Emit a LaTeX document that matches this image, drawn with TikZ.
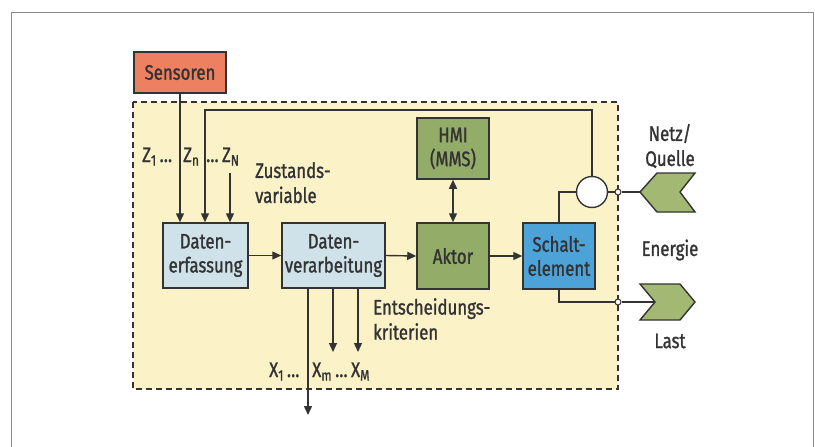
\documentclass[tikz,border=0pt]{standalone}
\usepackage{fontspec}
\setmainfont{Fira Sans}[FakeStretch=0.8, FakeBold=1.2]
\usetikzlibrary{arrows.meta}
\definecolor{linec}{HTML}{333333}
\definecolor{sensc}{HTML}{EE8062}
\definecolor{lblue}{HTML}{CFE2EA}
\definecolor{gbox}{HTML}{93AC68}
\definecolor{sblue}{HTML}{4DA3D8}
\definecolor{chev}{HTML}{A2B873}
\definecolor{yel}{HTML}{FBF2C8}
\definecolor{framec}{HTML}{8A8A8A}
\newcommand{\sbs}[1]{\raisebox{-3.5pt}{\fontsize{15}{15}\selectfont #1}}
\tikzset{
  blk/.style={draw=linec, line width=1.5pt, minimum width=#1, inner sep=0pt, align=center, font=\fontsize{21}{24}\selectfont, text=linec},
  blk/.default=72pt,
  conn/.style={draw=linec, line width=1.4pt},
  arr/.style={conn, -{Triangle[length=9pt,width=8pt]}},
  darr/.style={conn, {Triangle[length=9pt,width=8pt]}-{Triangle[length=9pt,width=8pt]}},
  lbl/.style={font=\fontsize{21}{25}\selectfont, text=linec, inner sep=0pt, align=left},
  dot/.style={circle, draw=linec, fill=white, line width=1pt, minimum size=6pt, inner sep=0pt},
  chevs/.style={draw=linec, fill=chev, line width=1.4pt, line join=miter}
}
\begin{document}
\begin{tikzpicture}[x=1pt,y=-1pt]
\useasboundingbox (0,0) rectangle (815,447);
\fill[white] (0,0) rectangle (815,447);
% outer frame
\draw[framec, line width=1pt] (11,460) -- (11,12) -- (813,12) -- (813,460);
% dashed system box
\fill[yel] (133,102) rectangle (618,389);
\draw[linec, line width=1.8pt, dash pattern=on 6pt off 4pt] (133,102) rectangle (618,389);

% blocks
\node[blk=92pt, minimum height=41pt, fill=sensc] (sens) at (180,72.5) {Sensoren};
\node[blk=85pt, minimum height=65pt, fill=lblue] (de) at (205.5,255.5) {Daten-\\erfassung};
\node[blk=103pt, minimum height=65pt, fill=lblue] (dv) at (333.5,255.5) {Daten-\\verarbeitung};
\node[blk=72pt, minimum height=66pt, fill=gbox] (akt) at (453,256) {Aktor};
\node[blk=72pt, minimum height=61pt, fill=gbox] (hmi) at (453,148.5) {HMI\\(MMS)};
\node[blk=72pt, minimum height=66pt, fill=sblue] (sch) at (559,256) {Schalt-\\element};

% coordinates
\coordinate (zN) at (230,173);
\coordinate (fbTopR) at (592,110);
\coordinate (fbTopL) at (205,110);
\coordinate (up1) at (559,192);
\coordinate (lo1) at (559,302);
\coordinate (o1) at (308,415);
\coordinate (o2) at (333,352);
\coordinate (o3) at (358,352);

% circle (measurement)
\node[circle, draw=linec, fill=white, line width=1.4pt, minimum size=31pt, inner sep=0pt] (meas) at (592,192) {};

% dots on the boundary
\node[dot] (d1) at (618,192) {};
\node[dot] (d2) at (618,302) {};

% chevrons
\draw[chevs] (640,192) -- (657,173) -- (695,173) -- (680,192) -- (695,212) -- (657,212) -- cycle;
\coordinate (netzTip) at (640,192);
\draw[chevs] (640,284) -- (680,284) -- (695,302) -- (680,320) -- (640,320) -- (655,302) -- cycle;
\coordinate (lastNotch) at (655,302);

% inputs to Datenerfassung
\draw[arr] (sens.south) -- (sens.south |- de.north);
\draw[arr] (meas.north) -- (fbTopR) -- (fbTopL) -- (fbTopL |- de.north);
\draw[arr] (zN) -- (zN |- de.north);

% main chain
\draw[arr] (de.east) -- (dv.west);
\draw[arr] (dv.east) -- (akt.west);
\draw[arr] (akt.east) -- (sch.west);
\draw[darr] (hmi.south) -- (akt.north);

% outputs of Datenverarbeitung
\draw[arr] (o1 |- dv.south) -- (o1);
\draw[arr] (o2 |- dv.south) -- (o2);
\draw[arr] (o3 |- dv.south) -- (o3);

% energy path
\draw[conn] (sch.north -| up1) -- (up1) -- (meas.west);
\draw[conn] (meas.east) -- (d1.west);
\draw[conn] (d1.east) -- (netzTip);
\draw[conn] (sch.south -| lo1) -- (lo1) -- (d2.west);
\draw[conn] (d2.east) -- (lastNotch);

% labels
\node[lbl, anchor=base west] (zl1) at (142,162) {Z\sbs{1}\,\ldots};
\node[lbl, anchor=base west] (zl2) at (183,162) {Z\sbs{n}};
\node[lbl, anchor=base west] (zl3) at (206,162) {\ldots\,Z\sbs{N}};
\node[lbl, anchor=north west] (zv) at (255,162) {Zustands-\\variable};
\node[lbl, anchor=north west] (ek) at (373,298) {Entscheidungs-\\kriterien};
\node[lbl, anchor=base west] (xl1) at (269,377) {X\sbs{1}\,\ldots};
\node[lbl, anchor=base west] (xl2) at (312,377) {X\sbs{m}};
\node[lbl, anchor=base west] (xl3) at (335,377) {\ldots\,X\sbs{M}};
\node[lbl, align=center] (netz) at (670,146) {Netz/\\Quelle};
\node[lbl] (en) at (670,250) {Energie};
\node[lbl] (last) at (670,341) {Last};
\end{tikzpicture}
\end{document}
